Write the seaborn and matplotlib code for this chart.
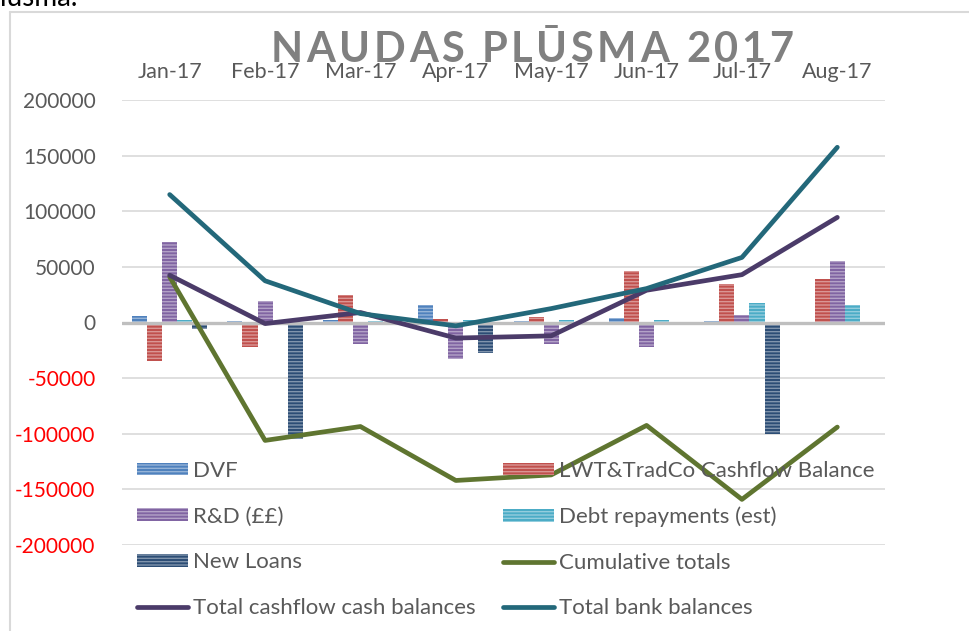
import matplotlib
matplotlib.use('Agg')
import matplotlib.pyplot as plt
import seaborn as sns
import pandas as pd
import numpy as np
from matplotlib.patches import Patch
from matplotlib.lines import Line2D
from matplotlib.colors import to_rgb

# ---------------- data ----------------
months = ['Jan-17', 'Feb-17', 'Mar-17', 'Apr-17', 'May-17', 'Jun-17', 'Jul-17', 'Aug-17']

dvf = [6000, 1000, 2000, 16000, 1500, 4000, 1500, 0]
lwt = [-35000, -22000, 25000, 3000, 4500, 46000, 35000, 39000]
rnd = [72000, 19000, -19000, -33000, -19500, -22000, 7000, 55000]
debt = [2400, 0, 1000, 2500, 2000, 2500, 17500, 15500]
new_loans = [-5500, -105000, 0, -27000, 0, 0, -100000, 0]

cumulative = [41000, -106000, -93500, -142000, -137000, -92500, -159000, -94000]
cashflow_bal = [42500, -1000, 9000, -14000, -12000, 29000, 43000, 94500]
bank_bal = [115000, 37500, 8000, -3000, 12500, 30500, 58500, 157500]

bar_series = ['DVF', 'LWT&TradCo Cashflow Balance', 'R&D (££)', 'Debt repayments (est)', 'New Loans']
line_series = ['Cumulative totals', 'Total cashflow cash balances', 'Total bank balances']
yticks = [200000, 150000, 100000, 50000, 0, -50000, -100000, -150000, -200000]
title = 'NAUDAS PLŪSMA 2017'

bar_colors = {'DVF': '#4F81BD', 'LWT&TradCo Cashflow Balance': '#C0504D',
              'R&D (££)': '#8064A2', 'Debt repayments (est)': '#4BACC6',
              'New Loans': '#2C4D75'}
line_colors = {'Cumulative totals': '#5F7530', 'Total cashflow cash balances': '#4B3B69',
               'Total bank balances': '#23687A'}

# ---------------- frames ----------------
bar_df = pd.DataFrame({
    'month': months * 5,
    'series': np.repeat(bar_series, len(months)),
    'value': dvf + lwt + rnd + debt + new_loans,
})
line_df = pd.DataFrame({
    'pos': list(range(len(months))) * 3,
    'series': np.repeat(line_series, len(months)),
    'value': cumulative + cashflow_bal + bank_bal,
})

sns.set_theme(style='white')
plt.rcParams['font.family'] = ['Lato', 'DejaVu Sans']
plt.rcParams['hatch.linewidth'] = 1.0

W, H = 970, 631
fig = plt.figure(figsize=(W / 100, H / 100), dpi=100)
ax = fig.add_axes([122 / W, 1 - 545 / H, (885 - 122) / W, (545 - 100) / H])


def lighten(c, f):
    r, g, b = to_rgb(c)
    return (r + (1 - r) * f, g + (1 - g) * f, b + (1 - b) * f)


sns.barplot(data=bar_df, x='month', y='value', hue='series', order=months,
            hue_order=bar_series, palette=bar_colors, width=0.79, saturation=1,
            errorbar=None, legend=False, ax=ax, zorder=2)

for cont, name in zip(ax.containers, bar_series):
    for p in cont:
        p.set_edgecolor(lighten(bar_colors[name], 0.4))
        p.set_linewidth(0)
        p.set_hatch('-----')

ax.axhline(0, color='#BFBFBF', lw=2.4, zorder=2.5)

sns.lineplot(data=line_df, x='pos', y='value', hue='series', hue_order=line_series,
             palette=line_colors, linewidth=3.4, legend=False, ax=ax, sort=False,
             zorder=4)
for ln in ax.lines:
    ln.set_solid_capstyle('round')
    ln.set_solid_joinstyle('round')

ax.set_xlim(-0.5, len(months) - 0.5)
ax.set_ylim(-200000, 200000)
ax.set_yticks(yticks)
ax.set_yticklabels([str(v) for v in yticks])
for lab, v in zip(ax.get_yticklabels(), yticks):
    lab.set_color('#FF0000' if v < 0 else '#595959')
ax.set_xticks(range(len(months)))
ax.set_xticklabels(months)
ax.xaxis.tick_top()
ax.set_xlabel('')
ax.set_ylabel('')
ax.tick_params(axis='y', length=0, pad=19, labelsize=15)
ax.tick_params(axis='x', length=0, pad=13, labelsize=15.5, labelcolor='#595959')
ax.grid(axis='y', color='#D9D9D9', lw=1.2)
ax.grid(axis='x', visible=False)
ax.set_axisbelow(True)
for s in ax.spines.values():
    s.set_visible(False)

# ---------------- legend ----------------
def bar_handle(name):
    return Patch(facecolor=bar_colors[name], edgecolor=lighten(bar_colors[name], 0.4),
                 linewidth=0, hatch='-----')


def line_handle(name):
    return Line2D([], [], color=line_colors[name], lw=3.4, solid_capstyle='round')


order = [('DVF', 'b'), ('R&D (££)', 'b'), ('New Loans', 'b'), ('Total cashflow cash balances', 'l'),
         ('LWT&TradCo Cashflow Balance', 'b'), ('Debt repayments (est)', 'b'),
         ('Cumulative totals', 'l'), ('Total bank balances', 'l')]
handles = [bar_handle(n) if k == 'b' else line_handle(n) for n, k in order]
labels = [n for n, _ in order]
leg = fig.legend(handles, labels, ncol=2, loc='upper left',
                 bbox_to_anchor=(137 / W, 1 - 461 / H), frameon=False, fontsize=16,
                 handlelength=2.3, handleheight=0.5, handletextpad=0.22,
                 labelspacing=1.15, columnspacing=1.22, borderpad=0, borderaxespad=0)
for t in leg.get_texts():
    t.set_color('#595959')

# ---------------- title (letter-spaced) & decorations ----------------
renderer = fig.canvas.get_renderer()
tprops = dict(fontsize=30, fontweight='bold', color='#808080')
spacing = 3.6  # extra px between letters


def text_w(s):
    t = fig.text(0, 0, s + 'I', **tprops)
    w = t.get_window_extent(renderer).width
    t.remove()
    return w


base_w = text_w('')
advances = [text_w(title[:i]) - base_w for i in range(len(title) + 1)]
total_w = advances[-1] + spacing * (len(title) - 1)
x0 = 532 - total_w / 2
for i, ch in enumerate(title):
    if ch == ' ':
        continue
    fig.text((x0 + advances[i] + spacing * i) / W, 1 - 50 / H, ch, ha='left', va='center',
             **tprops)

fig.text(0, 1 - 6 / H, 'lusma.', ha='left', va='baseline', fontsize=20, color='black')
fig.add_artist(Line2D([10 / W, 10 / W], [0, 1 - 12 / H], transform=fig.transFigure,
                      color='#D9D9D9', lw=1.5))
fig.add_artist(Line2D([10 / W, 1], [1 - 12 / H, 1 - 12 / H], transform=fig.transFigure,
                      color='#D9D9D9', lw=1.5))

fig.savefig('out.png', dpi=100)
